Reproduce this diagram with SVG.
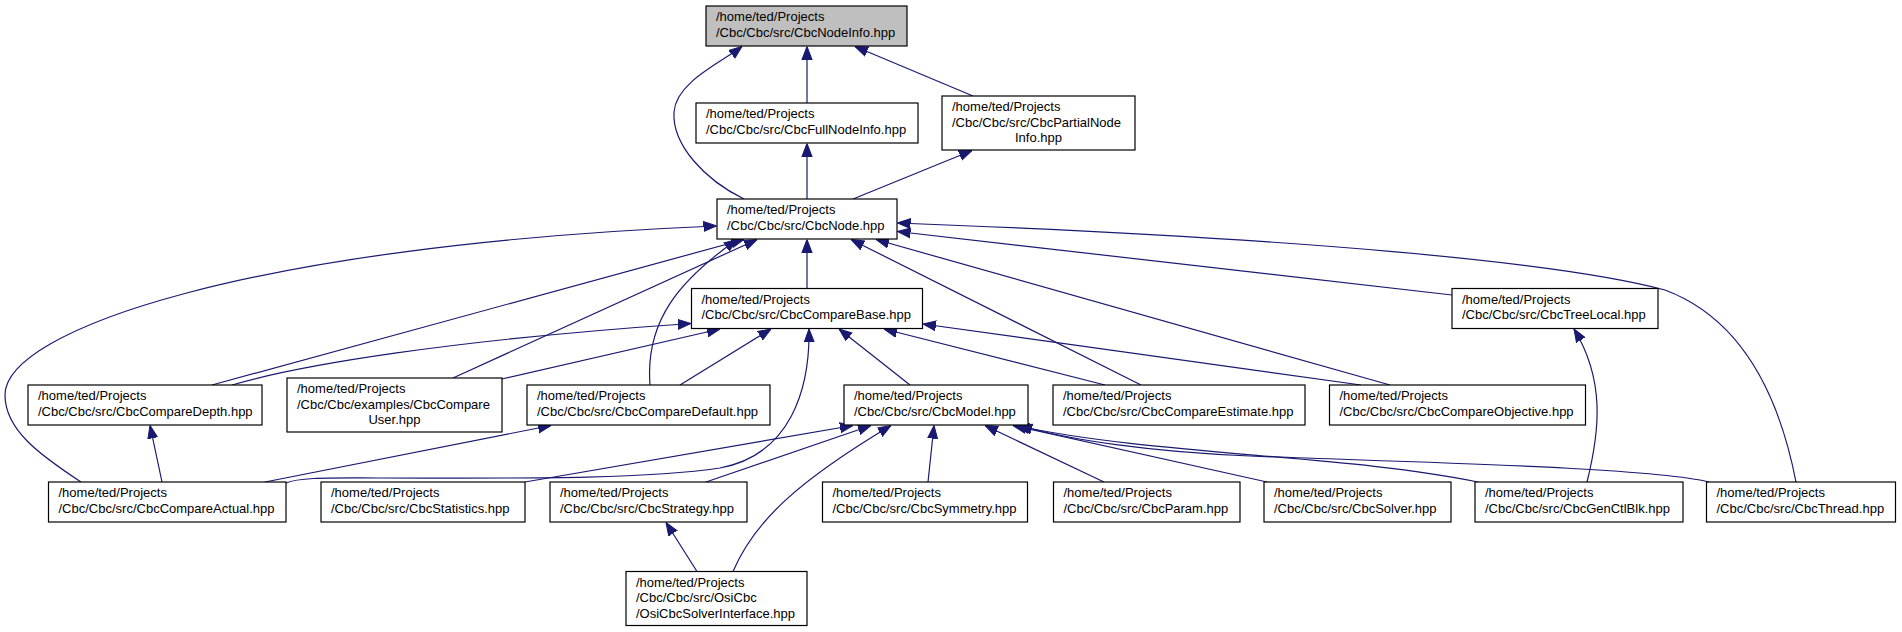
<svg xmlns="http://www.w3.org/2000/svg" width="1902" height="632" viewBox="0 0 1902 632">
<style>
.b{fill:#ffffff;stroke:#000000;stroke-width:1.2}
.hl{fill:#bfbfbf}
.t{font-family:"Liberation Sans",Arial,Helvetica,sans-serif;font-size:13px;fill:#000000}
.c{text-anchor:middle}
.e{fill:none;stroke:#191970;stroke-width:1.2;marker-end:url(#ah)}
</style>
<defs>
<marker id="ah" viewBox="0 0 10 10" refX="10" refY="5" markerWidth="13" markerHeight="13" markerUnits="userSpaceOnUse" orient="auto">
<path d="M0,1.2 L10,5 L0,8.8 z" fill="#191970" stroke="#191970" stroke-width="0.8"/>
</marker>
</defs>
<rect x="0" y="0" width="1902" height="632" fill="#ffffff"/>
<g id="edges">
<path class="e" d="M744,199 C705,180 672,145 674,112 C676,82 722,62 742,46.5"/>
<path class="e" d="M807,103 L807,46.5"/>
<path class="e" d="M973,96 L855,46.5"/>
<path class="e" d="M807,199 L807,143.5"/>
<path class="e" d="M853,199 L972,150.5"/>
<path class="e" d="M807,288.5 L807,239.5"/>
<path class="e" d="M1452,295 L897.5,231.5"/>
<path class="e" d="M1796,482 C1780,400 1745,320 1665,290 C1560,262 1300,238 897.5,223"/>
<path class="e" d="M81,482 C40,455 5,430 5,395 C5,330 250,245 716.5,226"/>
<path class="e" d="M212,385 L744,239.5"/>
<path class="e" d="M453,378 L757,239.5"/>
<path class="e" d="M650,385 C645,320 680,280 737,239.5"/>
<path class="e" d="M1141,385 L851,239.5"/>
<path class="e" d="M1390,385 L876,239.5"/>
<path class="e" d="M232,385 C300,365 450,340 691,323.5"/>
<path class="e" d="M502,379 L720,329"/>
<path class="e" d="M680,385 L771,329"/>
<path class="e" d="M286,483 C300,477 330,478 380,478 C500,478 640,480 720,468 C790,455 810,390 809,329"/>
<path class="e" d="M910,385 L839,329"/>
<path class="e" d="M1105,385 L884,329"/>
<path class="e" d="M1361,385 L923,324"/>
<path class="e" d="M162,482 L150,425.5"/>
<path class="e" d="M265,482 L551,425.5"/>
<path class="e" d="M525,482 L853,425.5"/>
<path class="e" d="M706,482 L871,425.5"/>
<path class="e" d="M733,571.5 C755,520 800,480 891,425.5"/>
<path class="e" d="M928,482 L934,425.5"/>
<path class="e" d="M1104,482 L985,425.5"/>
<path class="e" d="M1267,482 L1013,425.5"/>
<path class="e" d="M1478,482 C1350,455 1150,455 1016,425.5"/>
<path class="e" d="M1709,482 C1650,467 1400,462 1250,456 C1150,452 1070,440 1019,425.5"/>
<path class="e" d="M1587,482 C1600,430 1605,380 1574,329"/>
<path class="e" d="M697,571.5 L666,522.5"/>
</g>
<g id="n_CbcNodeInfo"><rect class="b hl" x="706" y="6" width="201" height="40"/><text class="t"><tspan x="716" y="21">/home/ted/Projects</tspan><tspan x="716" y="36.5">/Cbc/Cbc/src/CbcNodeInfo.hpp</tspan></text></g>
<g id="n_CbcFullNodeInfo"><rect class="b" x="696" y="103" width="222" height="40"/><text class="t"><tspan x="706" y="118">/home/ted/Projects</tspan><tspan x="706" y="133.5">/Cbc/Cbc/src/CbcFullNodeInfo.hpp</tspan></text></g>
<g id="n_CbcPartialNodeInfo"><rect class="b" x="942" y="96" width="193" height="54"/><text class="t"><tspan x="952" y="111">/home/ted/Projects</tspan><tspan x="952" y="126.5">/Cbc/Cbc/src/CbcPartialNode</tspan><tspan class="c" x="1038.5" y="142">Info.hpp</tspan></text></g>
<g id="n_CbcNode"><rect class="b" x="717" y="199" width="180" height="40"/><text class="t"><tspan x="727" y="214">/home/ted/Projects</tspan><tspan x="727" y="229.5">/Cbc/Cbc/src/CbcNode.hpp</tspan></text></g>
<g id="n_CbcCompareBase"><rect class="b" x="691.5" y="288.5" width="231" height="40"/><text class="t"><tspan x="701.5" y="303.5">/home/ted/Projects</tspan><tspan x="701.5" y="319">/Cbc/Cbc/src/CbcCompareBase.hpp</tspan></text></g>
<g id="n_CbcTreeLocal"><rect class="b" x="1452" y="288.5" width="206" height="40"/><text class="t"><tspan x="1462" y="303.5">/home/ted/Projects</tspan><tspan x="1462" y="319">/Cbc/Cbc/src/CbcTreeLocal.hpp</tspan></text></g>
<g id="n_CbcCompareDepth"><rect class="b" x="28" y="385" width="234" height="40"/><text class="t"><tspan x="38" y="400">/home/ted/Projects</tspan><tspan x="38" y="415.5">/Cbc/Cbc/src/CbcCompareDepth.hpp</tspan></text></g>
<g id="n_CbcCompareUser"><rect class="b" x="287" y="378" width="215" height="54"/><text class="t"><tspan x="297" y="393">/home/ted/Projects</tspan><tspan x="297" y="408.5">/Cbc/Cbc/examples/CbcCompare</tspan><tspan class="c" x="394.5" y="424">User.hpp</tspan></text></g>
<g id="n_CbcCompareDefault"><rect class="b" x="527" y="385" width="243" height="40"/><text class="t"><tspan x="537" y="400">/home/ted/Projects</tspan><tspan x="537" y="415.5">/Cbc/Cbc/src/CbcCompareDefault.hpp</tspan></text></g>
<g id="n_CbcModel"><rect class="b" x="844" y="385" width="184" height="40"/><text class="t"><tspan x="854" y="400">/home/ted/Projects</tspan><tspan x="854" y="415.5">/Cbc/Cbc/src/CbcModel.hpp</tspan></text></g>
<g id="n_CbcCompareEstimate"><rect class="b" x="1053" y="385" width="252" height="40"/><text class="t"><tspan x="1063" y="400">/home/ted/Projects</tspan><tspan x="1063" y="415.5">/Cbc/Cbc/src/CbcCompareEstimate.hpp</tspan></text></g>
<g id="n_CbcCompareObjective"><rect class="b" x="1329.5" y="385" width="256" height="40"/><text class="t"><tspan x="1339.5" y="400">/home/ted/Projects</tspan><tspan x="1339.5" y="415.5">/Cbc/Cbc/src/CbcCompareObjective.hpp</tspan></text></g>
<g id="n_CbcCompareActual"><rect class="b" x="48.5" y="482" width="237.5" height="40"/><text class="t"><tspan x="58.5" y="497">/home/ted/Projects</tspan><tspan x="58.5" y="512.5">/Cbc/Cbc/src/CbcCompareActual.hpp</tspan></text></g>
<g id="n_CbcStatistics"><rect class="b" x="321" y="482" width="204" height="40"/><text class="t"><tspan x="331" y="497">/home/ted/Projects</tspan><tspan x="331" y="512.5">/Cbc/Cbc/src/CbcStatistics.hpp</tspan></text></g>
<g id="n_CbcStrategy"><rect class="b" x="550" y="482" width="197" height="40"/><text class="t"><tspan x="560" y="497">/home/ted/Projects</tspan><tspan x="560" y="512.5">/Cbc/Cbc/src/CbcStrategy.hpp</tspan></text></g>
<g id="n_CbcSymmetry"><rect class="b" x="822.5" y="482" width="205" height="40"/><text class="t"><tspan x="832.5" y="497">/home/ted/Projects</tspan><tspan x="832.5" y="512.5">/Cbc/Cbc/src/CbcSymmetry.hpp</tspan></text></g>
<g id="n_CbcParam"><rect class="b" x="1053.5" y="482" width="186.5" height="40"/><text class="t"><tspan x="1063.5" y="497">/home/ted/Projects</tspan><tspan x="1063.5" y="512.5">/Cbc/Cbc/src/CbcParam.hpp</tspan></text></g>
<g id="n_CbcSolver"><rect class="b" x="1264" y="482" width="187" height="40"/><text class="t"><tspan x="1274" y="497">/home/ted/Projects</tspan><tspan x="1274" y="512.5">/Cbc/Cbc/src/CbcSolver.hpp</tspan></text></g>
<g id="n_CbcGenCtlBlk"><rect class="b" x="1475" y="482" width="208" height="40"/><text class="t"><tspan x="1485" y="497">/home/ted/Projects</tspan><tspan x="1485" y="512.5">/Cbc/Cbc/src/CbcGenCtlBlk.hpp</tspan></text></g>
<g id="n_CbcThread"><rect class="b" x="1706.5" y="482" width="189" height="40"/><text class="t"><tspan x="1716.5" y="497">/home/ted/Projects</tspan><tspan x="1716.5" y="512.5">/Cbc/Cbc/src/CbcThread.hpp</tspan></text></g>
<g id="n_OsiCbcSolverInterface"><rect class="b" x="626" y="571.5" width="181" height="54"/><text class="t"><tspan x="636" y="586.5">/home/ted/Projects</tspan><tspan x="636" y="602">/Cbc/Cbc/src/OsiCbc</tspan><tspan x="636" y="617.5">/OsiCbcSolverInterface.hpp</tspan></text></g>
</svg>
